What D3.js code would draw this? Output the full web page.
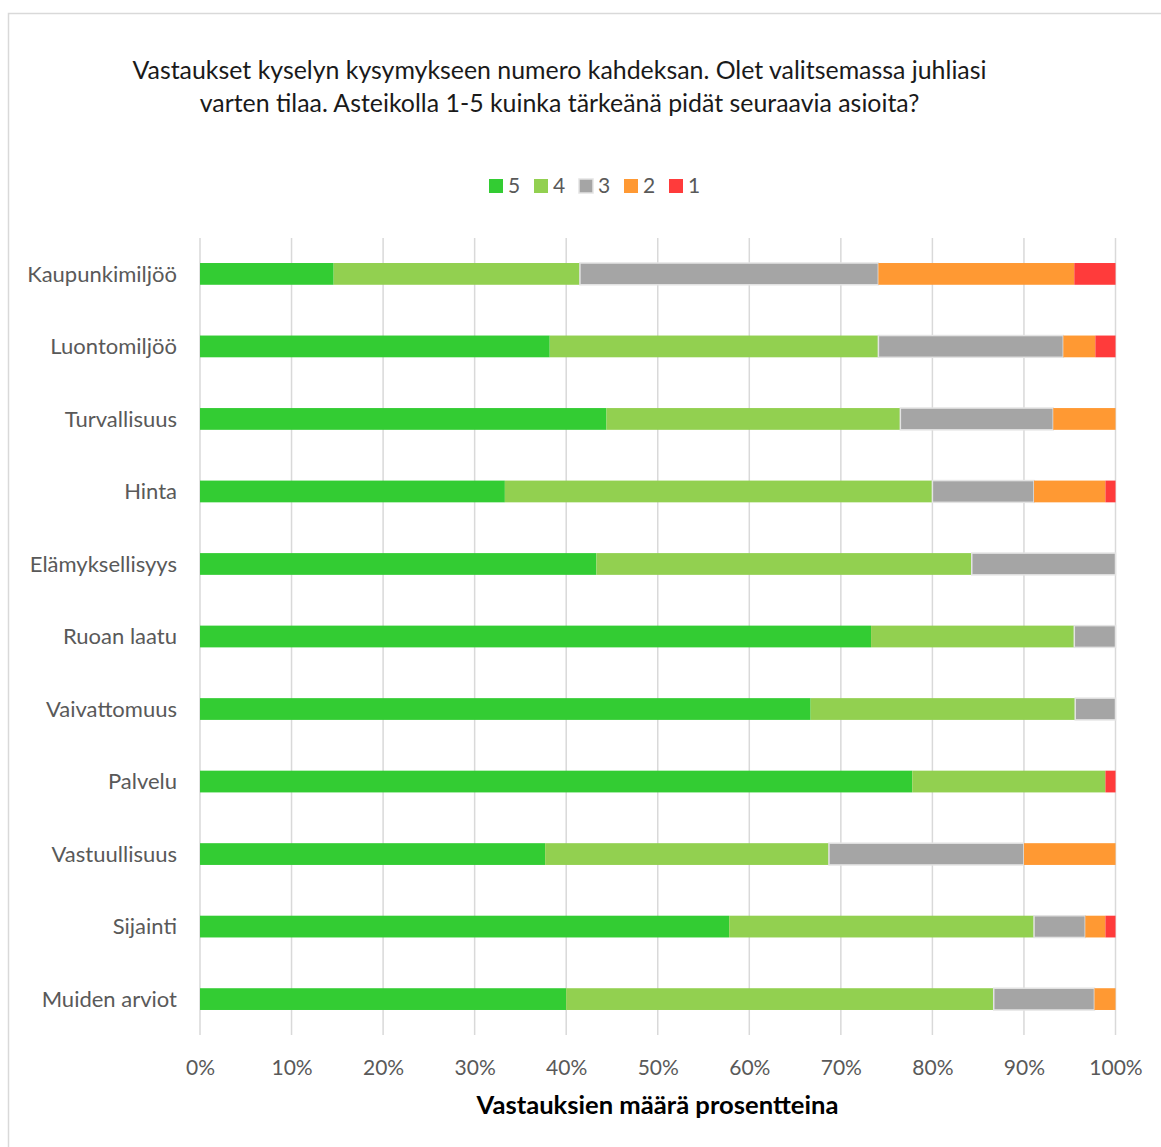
<!DOCTYPE html>
<html>
<head>
<meta charset="utf-8">
<script src="https://cdn.jsdelivr.net/npm/d3@7"></script>
<style>
  body { margin: 0; background: #fff; }
  text { font-family: Lato, "Open Sans", sans-serif; }
</style>
</head>
<body>
<div id="chart"></div>
<script>
// Survey answers, percent of respondents per rating
const categories = ["Kaupunkimiljöö", "Luontomiljöö", "Turvallisuus", "Hinta", "Elämyksellisyys",
  "Ruoan laatu", "Vaivattomuus", "Palvelu", "Vastuullisuus", "Sijainti", "Muiden arviot"];
const rating5 = [14.6, 38.2, 44.4, 33.3, 43.3, 73.3, 66.7, 77.8, 37.7, 57.8, 40.0];
const rating4 = [26.9, 35.9, 32.1, 46.7, 41.0, 22.2, 28.9, 21.1, 31.0, 33.3, 46.7];
const rating3 = [32.6, 20.2, 16.7, 11.1, 15.7, 4.5, 4.4, 0, 21.3, 5.6, 11.0];
const rating2 = [21.4, 3.5, 6.8, 7.8, 0, 0, 0, 0, 10.0, 2.2, 2.3];
const rating1 = [4.5, 2.2, 0, 1.1, 0, 0, 0, 1.1, 0, 1.1, 0];
const seriesNames = ["5", "4", "3", "2", "1"];
const tickValues = [0, 0.1, 0.2, 0.3, 0.4, 0.5, 0.6, 0.7, 0.8, 0.9, 1];

const colors = { "5": "#33CC33", "4": "#92D050", "3": "#A5A5A5", "2": "#FF9933", "1": "#FF3B3B" };

const width = 1161, height = 1147;

const rows = categories.map((c, i) => ({
  cat: c, "5": rating5[i], "4": rating4[i], "3": rating3[i], "2": rating2[i], "1": rating1[i]
}));

const svg = d3.select("#chart").append("svg")
  .attr("width", width)
  .attr("height", height);

// chart frame
svg.append("rect")
  .attr("x", 8.5).attr("y", 13.5)
  .attr("width", 1180).attr("height", 1160)
  .attr("fill", "#fff")
  .attr("stroke", "#D9D9D9")
  .attr("stroke-width", 1.5);

const x = d3.scaleLinear().domain([0, 1]).range([200, 1115.5]);
const y = d3.scaleBand().domain(categories).range([238, 1035])
  .paddingInner(0.7).paddingOuter(0.345);

// gridlines
svg.append("g")
  .selectAll("line")
  .data(tickValues)
  .join("line")
  .attr("x1", d => x(d)).attr("x2", d => x(d))
  .attr("y1", 238).attr("y2", 1035)
  .attr("stroke", "#D9D9D9")
  .attr("stroke-width", 1.5);

// stacked bars
const stack = d3.stack().keys(seriesNames).value((d, k) => d[k] / 100);
const layers = stack(rows);

svg.append("g")
  .selectAll("g")
  .data(layers)
  .join("g")
  .attr("fill", d => colors[d.key])
  .attr("stroke", d => d.key === "3" ? "#E3E3E3" : "none")
  .attr("stroke-width", 1.5)
  .selectAll("rect")
  .data(d => d.filter(s => s[1] - s[0] > 0))
  .join("rect")
  .attr("x", d => x(d[0]))
  .attr("y", d => y(d.data.cat))
  .attr("width", d => x(d[1]) - x(d[0]))
  .attr("height", y.bandwidth());

// category labels
svg.append("g")
  .selectAll("text")
  .data(categories)
  .join("text")
  .attr("x", 177)
  .attr("y", d => y(d) + y.bandwidth() / 2)
  .attr("dy", "0.35em")
  .attr("text-anchor", "end")
  .attr("fill", "#595959")
  .style("font-size", "22px")
  .text(d => d);

// x axis tick labels
const xAxis = d3.axisBottom(x)
  .tickValues(tickValues)
  .tickFormat(d3.format(".0%"))
  .tickSize(0)
  .tickPadding(0);

const axisG = svg.append("g")
  .attr("transform", "translate(0,1060)")
  .call(xAxis);
axisG.select(".domain").remove();
axisG.selectAll("text")
  .attr("fill", "#595959")
  .style("font-size", "21px")
  .style("font-family", "Lato, 'Open Sans', sans-serif");

// axis title
svg.append("text")
  .attr("x", 657.5).attr("y", 1114)
  .attr("text-anchor", "middle")
  .attr("fill", "#000")
  .style("font-size", "25.6px")
  .style("font-weight", "bold")
  .text("Vastauksien määrä prosentteina");

// title
const titleLines = [
  "Vastaukset kyselyn kysymykseen numero kahdeksan. Olet valitsemassa juhliasi",
  "varten tilaa. Asteikolla 1-5 kuinka tärkeänä pidät seuraavia asioita?"
];
svg.append("g")
  .selectAll("text")
  .data(titleLines)
  .join("text")
  .attr("x", 559.5)
  .attr("y", (d, i) => 79 + i * 33)
  .attr("text-anchor", "middle")
  .attr("fill", "#1a1a1a")
  .style("font-size", "24.9px")
  .text(d => d);

// legend
const legend = svg.append("g")
  .selectAll("g")
  .data(seriesNames)
  .join("g")
  .attr("transform", (d, i) => `translate(${489 + i * 45},179)`);

legend.append("rect")
  .attr("width", 14).attr("height", 14)
  .attr("fill", d => colors[d])
  .attr("stroke", d => d === "3" ? "#E3E3E3" : "none")
  .attr("stroke-width", 1.5);

legend.append("text")
  .attr("x", 19).attr("y", 7)
  .attr("dy", "0.35em")
  .attr("fill", "#595959")
  .style("font-size", "21px")
  .text(d => d);
</script>
</body>
</html>
